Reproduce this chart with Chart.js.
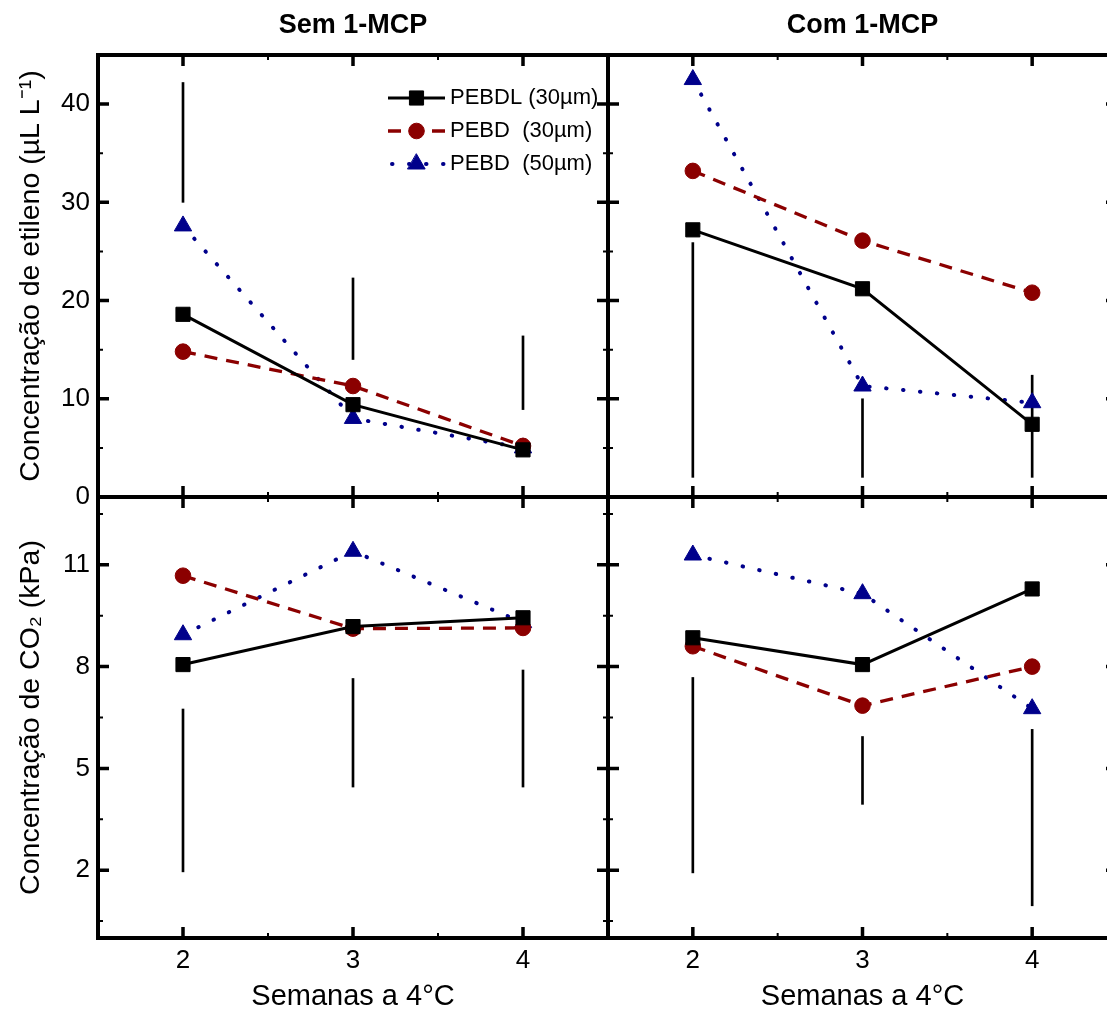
<!DOCTYPE html>
<html><head><meta charset="utf-8">
<script src="https://cdn.jsdelivr.net/npm/chart.js@4/dist/chart.umd.min.js"></script>
<style>
html,body{margin:0;padding:0;background:#fff;overflow:hidden;width:1107px;height:1014px;position:relative;}
canvas{position:absolute;}
</style></head><body>
<canvas id="tl" width="640" height="530" style="left:0px;top:0px;width:640px;height:530px"></canvas>
<canvas id="tr" width="580" height="530" style="left:560px;top:0px;width:580px;height:530px"></canvas>
<canvas id="bl" width="640" height="554" style="left:0px;top:460px;width:640px;height:554px"></canvas>
<canvas id="br" width="580" height="554" style="left:560px;top:460px;width:580px;height:554px"></canvas>
<script>
// ---------- data ----------
const weeks = [2, 3, 4];
const seriesNames = ['PEBDL (30µm)', 'PEBD  (30µm)', 'PEBD  (50µm)'];
const panelTitles = ['Sem 1-MCP', 'Com 1-MCP'];
const yTitleEtileno = 'Concentração de etileno (µL L⁻¹)';
const yTitleCO2 = 'Concentração de CO₂ (kPa)';
const xTitle = 'Semanas a 4°C';

const etilenoTicks = [0, 10, 20, 30, 40];
const etilenoMinorTicks = [5, 15, 25, 35];
const co2Ticks = [2, 5, 8, 11];
const co2MinorTicks = [0.5, 3.5, 6.5, 9.5, 12.5];
const weekTicks = [2, 3, 4];
const weekMinorTicks = [2.5, 3.5];

// Etileno - Sem 1-MCP
const semEtilPEBDL30 = [18.6, 9.4, 4.8];
const semEtilPEBD30 = [14.8, 11.3, 5.2];
const semEtilPEBD50 = [27.6, 8.0, 5.0];
const semEtilBarLow = [30.0, 14.0, 8.9];
const semEtilBarHigh = [42.2, 22.3, 16.4];
// Etileno - Com 1-MCP
const comEtilPEBDL30 = [27.2, 21.2, 7.4];
const comEtilPEBD30 = [33.2, 26.1, 20.8];
const comEtilPEBD50 = [42.5, 11.3, 9.6];
const comEtilBarLow = [2.0, 2.0, 2.0];
const comEtilBarHigh = [25.9, 10.0, 12.4];
// CO2 - Sem 1-MCP
const semCO2PEBDL30 = [8.06, 9.18, 9.44];
const semCO2PEBD30 = [10.68, 9.12, 9.14];
const semCO2PEBD50 = [8.94, 11.4, 9.3];
const semCO2BarLow = [1.95, 4.45, 4.45];
const semCO2BarHigh = [6.75, 7.65, 7.9];
// CO2 - Com 1-MCP
const comCO2PEBDL30 = [8.85, 8.06, 10.29];
const comCO2PEBD30 = [8.6, 6.85, 8.0];
const comCO2PEBD50 = [11.29, 10.15, 6.76];
const comCO2BarLow = [1.92, 3.94, 0.95];
const comCO2BarHigh = [7.68, 5.94, 6.15];

// ---------- styles ----------
const FONT = "'Liberation Sans', Arial, Helvetica, sans-serif";
const STY = [
  {color: '#000000', width: 3, dash: [], cap: 'butt', pointStyle: 'rect', radius: 10},
  {color: '#8b0000', width: 3.3, dash: [13, 9], cap: 'butt', pointStyle: 'circle', radius: 7.8},
  {color: '#00008b', width: 4, dash: [0.5, 16.5], cap: 'round', pointStyle: 'triangle', radius: 10}
];

function lineDatasets(vals) {
  return vals.map((arr, k) => ({
    type: 'line',
    label: seriesNames[k],
    data: weeks.map((w, i) => ({x: w, y: arr[i]})),
    borderColor: STY[k].color,
    backgroundColor: STY[k].color,
    borderWidth: STY[k].width,
    borderDash: STY[k].dash,
    borderCapStyle: STY[k].cap,
    pointStyle: STY[k].pointStyle,
    pointRadius: STY[k].radius,
    pointBorderWidth: 1,
    pointBackgroundColor: STY[k].color,
    pointBorderColor: STY[k].color,
    tension: 0,
    fill: false
  }));
}
function barDataset(low, high) {
  return {
    type: 'bar',
    label: 'barra',
    data: weeks.map((w, i) => ({x: w, y: [low[i], high[i]]})),
    backgroundColor: '#000',
    borderWidth: 0,
    barThickness: 2
  };
}

const frameTicks = {
  id: 'frameTicks',
  afterDatasetsDraw(chart, args, o) {
    const {ctx, chartArea: a} = chart;
    const xs = chart.scales.x, ys = chart.scales.y;
    ctx.save();
    ctx.strokeStyle = '#000';
    ctx.lineCap = 'butt';
    const drawX = (vals, len, w) => {
      ctx.lineWidth = w;
      ctx.beginPath();
      vals.forEach(v => {
        const p = xs.getPixelForValue(v);
        ctx.moveTo(p, a.bottom); ctx.lineTo(p, a.bottom - len);
        ctx.moveTo(p, a.top); ctx.lineTo(p, a.top + len);
      });
      ctx.stroke();
    };
    const drawY = (vals, len, w) => {
      ctx.lineWidth = w;
      ctx.beginPath();
      vals.forEach(v => {
        const p = ys.getPixelForValue(v);
        ctx.moveTo(a.left, p); ctx.lineTo(a.left + len, p);
        ctx.moveTo(a.right, p); ctx.lineTo(a.right - len, p);
      });
      ctx.stroke();
    };
    drawX(o.xMajor, 11, 3.5);
    drawX(o.xMinor, 5, 2);
    drawY(o.yMajor, 11, 3.5);
    drawY(o.yMinor, 5, 2);
    ctx.lineWidth = 4;
    ctx.strokeRect(a.left, a.top, a.right - a.left, a.bottom - a.top);
    ctx.restore();
  }
};

const sampleLegend = {
  id: 'sampleLegend',
  afterDraw(chart, args, o) {
    if (!o.show) return;
    const ctx = chart.ctx;
    seriesNames.forEach((name, i) => {
      const s = STY[i];
      const y = o.y0 + i * o.dy;
      ctx.save();
      ctx.strokeStyle = s.color;
      ctx.lineWidth = s.width;
      ctx.setLineDash(s.dash);
      ctx.lineDashOffset = o.dashOffset[i];
      ctx.lineCap = s.cap;
      ctx.beginPath();
      ctx.moveTo(o.x0, y); ctx.lineTo(o.x1, y);
      ctx.stroke();
      ctx.setLineDash([]);
      ctx.fillStyle = s.color;
      ctx.lineWidth = 1;
      Chart.helpers.drawPoint(ctx, {pointStyle: s.pointStyle, radius: s.radius, borderWidth: 1, rotation: 0}, (o.x0 + o.x1) / 2, y);
      ctx.fillStyle = '#000';
      ctx.font = '22px ' + FONT;
      ctx.textBaseline = 'middle';
      ctx.textAlign = 'left';
      ctx.fillText(name, o.tx, y);
      ctx.restore();
    });
  }
};

function makeChart(id, cfg) {
  const isTop = cfg.top, isLeft = cfg.left;
  const yScale = {
    type: 'linear', min: cfg.ymin, max: cfg.ymax,
    display: isLeft,
    afterFit: s => { s.width = isLeft ? 98 : 0; },
    afterBuildTicks: s => { s.ticks = cfg.yTicks.map(v => ({value: v})); },
    grid: {display: false, drawTicks: false},
    border: {display: false},
    ticks: {font: {family: FONT, size: 26}, color: '#000', padding: 8, autoSkip: false},
    title: {display: true, text: cfg.yTitle, font: {family: FONT, size: 28.5}, color: '#000', padding: {top: 14, bottom: 0}}
  };
  const xScale = {
    type: 'linear', min: 1.5, max: 4.5,
    display: !isTop,
    offset: false,
    afterFit: s => { s.height = isTop ? 0 : 76; },
    afterBuildTicks: s => { s.ticks = weekTicks.map(v => ({value: v})); },
    grid: {display: false, drawTicks: false, offset: false},
    border: {display: false},
    ticks: {font: {family: FONT, size: 26}, color: '#000', padding: 7, autoSkip: false, maxRotation: 0},
    title: {display: true, text: xTitle, font: {family: FONT, size: 29}, color: '#000', padding: {top: 0, bottom: 0}}
  };
  return new Chart(document.getElementById(id), {
    type: 'line',
    data: {datasets: [...lineDatasets(cfg.series), barDataset(cfg.low, cfg.high)]},
    options: {
      responsive: false,
      animation: false,
      layout: {padding: cfg.pad},
      scales: {x: xScale, y: yScale},
      plugins: {
        legend: {display: false},
        tooltip: {enabled: false},
        title: {
          display: isTop, text: cfg.title, color: '#000', fullSize: false,
          font: {family: FONT, size: 27, weight: 'bold'},
          padding: {top: 9, bottom: 13.6}
        },
        frameTicks: {xMajor: weekTicks, xMinor: weekMinorTicks, yMajor: cfg.yTicks, yMinor: cfg.yMinor},
        sampleLegend: {show: !!cfg.legend, x0: 388, x1: 445, tx: 450, y0: 98, dy: 33, dashOffset: [0, 0, -4]}
      }
    },
    plugins: [frameTicks, sampleLegend]
  });
}

makeChart('tl', {top: true, left: true, title: panelTitles[0], ymin: 0, ymax: 45,
  yTicks: etilenoTicks, yMinor: etilenoMinorTicks, yTitle: yTitleEtileno,
  series: [semEtilPEBDL30, semEtilPEBD30, semEtilPEBD50], low: semEtilBarLow, high: semEtilBarHigh,
  pad: {top: 0, left: 0, right: 32, bottom: 33}, legend: true});
makeChart('tr', {top: true, left: false, title: panelTitles[1], ymin: 0, ymax: 45,
  yTicks: etilenoTicks, yMinor: etilenoMinorTicks, yTitle: yTitleEtileno,
  series: [comEtilPEBDL30, comEtilPEBD30, comEtilPEBD50], low: comEtilBarLow, high: comEtilBarHigh,
  pad: {top: 0, left: 48, right: 23, bottom: 33}});
makeChart('bl', {top: false, left: true, ymin: 0, ymax: 13,
  yTicks: co2Ticks, yMinor: co2MinorTicks, yTitle: yTitleCO2,
  series: [semCO2PEBDL30, semCO2PEBD30, semCO2PEBD50], low: semCO2BarLow, high: semCO2BarHigh,
  pad: {top: 37, left: 0, right: 32, bottom: 0}});
makeChart('br', {top: false, left: false, ymin: 0, ymax: 13,
  yTicks: co2Ticks, yMinor: co2MinorTicks, yTitle: yTitleCO2,
  series: [comCO2PEBDL30, comCO2PEBD30, comCO2PEBD50], low: comCO2BarLow, high: comCO2BarHigh,
  pad: {top: 37, left: 48, right: 23, bottom: 0}});
</script></body></html>
